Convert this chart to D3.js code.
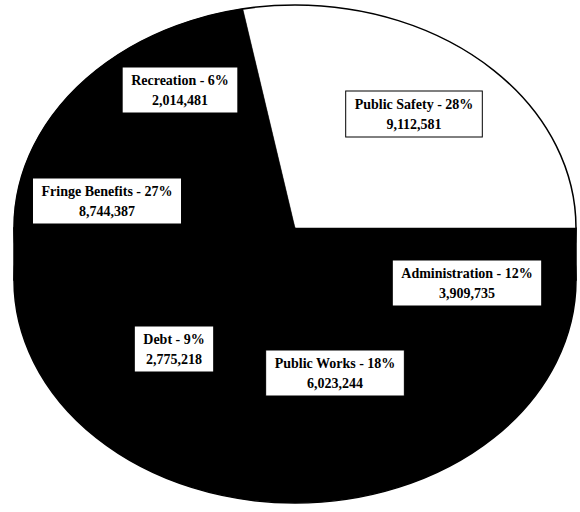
<!DOCTYPE html>
<html>
<head>
<meta charset="utf-8">
<script src="https://cdn.jsdelivr.net/npm/d3@7"></script>
<style>
  html, body { margin: 0; padding: 0; background: #fff; }
  svg { display: block; }
  .lbl { font-family: "Liberation Serif", "Times New Roman", serif; font-weight: bold; font-size: 14px; fill: #000; }
</style>
</head>
<body>
<svg id="chart" width="580" height="512"></svg>
<script>
// Budget categories, clockwise; Public Safety ends at the 3 o'clock boundary
const categories = ["Public Safety", "Administration", "Public Works", "Debt", "Fringe Benefits", "Recreation"];
const amounts = [9112581, 3909735, 6023244, 2775218, 8744387, 2014481];
const sliceColors = ["#ffffff", "#000000", "#000000", "#000000", "#000000", "#000000"];

// Label box centres (layout only)
const labelCenters = [
  [414, 114],
  [467, 283],
  [335, 373],
  [174, 349],
  [107, 201],
  [180, 90]
];

// Tilted pie: elliptical top face plus a solid side wall
const cx = 295, cy = 228, rx = 281, ry = 223, depth = 52;

const svg = d3.select("#chart");
const total = d3.sum(amounts);
const data = categories.map((c, i) => ({ name: c, value: amounts[i], color: sliceColors[i], pos: labelCenters[i] }));

// Side wall (all slices on the front are dark)
const wall = svg.append("g");
wall.append("ellipse")
  .attr("cx", cx).attr("cy", cy + depth).attr("rx", rx).attr("ry", ry)
  .attr("fill", "#000").attr("stroke", "#000").attr("stroke-width", 1.5);
wall.append("rect")
  .attr("x", cx - rx).attr("y", cy).attr("width", 2 * rx).attr("height", depth)
  .attr("fill", "#000").attr("stroke", "#000").attr("stroke-width", 1.5);

// Top face
const start = Math.PI / 2 - 2 * Math.PI * amounts[0] / total;
const pie = d3.pie().sort(null).value(d => d.value).startAngle(start).endAngle(start + 2 * Math.PI);
const arc = d3.arc().innerRadius(0).outerRadius(1);

const g = svg.append("g").attr("transform", `translate(${cx},${cy}) scale(${rx},${ry})`);

g.append("ellipse")
  .attr("cx", 0).attr("cy", 0).attr("rx", 1).attr("ry", 1)
  .attr("fill", "#000");

g.selectAll("path.slice")
  .data(pie(data))
  .join("path")
  .attr("class", "slice")
  .attr("d", arc)
  .attr("fill", d => d.data.color)
  .attr("stroke", d => d.data.color)
  .attr("stroke-width", 0.5)
  .attr("vector-effect", "non-scaling-stroke");

// Rim of the top face
g.append("ellipse")
  .attr("cx", 0).attr("cy", 0).attr("rx", 1).attr("ry", 1)
  .attr("fill", "none")
  .attr("stroke", "#000")
  .attr("stroke-width", 1.5)
  .attr("vector-effect", "non-scaling-stroke");

const pct = d3.format(".0%");
const num = d3.format(",");

const labels = svg.append("g").selectAll("g.label")
  .data(data)
  .join("g")
  .attr("class", "label")
  .attr("transform", d => `translate(${d.pos[0]},${d.pos[1]})`);

labels.each(function(d) {
  const sel = d3.select(this);
  const rect = sel.append("rect").attr("fill", "#fff").attr("stroke", "#000").attr("stroke-width", 1);
  const t1 = sel.append("text").attr("class", "lbl").attr("text-anchor", "middle")
    .attr("y", -10).attr("dy", "0.35em")
    .text(`${d.name} - ${pct(d.value / total)}`);
  const t2 = sel.append("text").attr("class", "lbl").attr("text-anchor", "middle")
    .attr("y", 10).attr("dy", "0.35em")
    .text(num(d.value));
  const w = Math.max(t1.node().getComputedTextLength(), t2.node().getComputedTextLength()) + 18;
  const h = 46;
  rect.attr("x", -w / 2).attr("y", -h / 2).attr("width", w).attr("height", h);
});
</script>
</body>
</html>
